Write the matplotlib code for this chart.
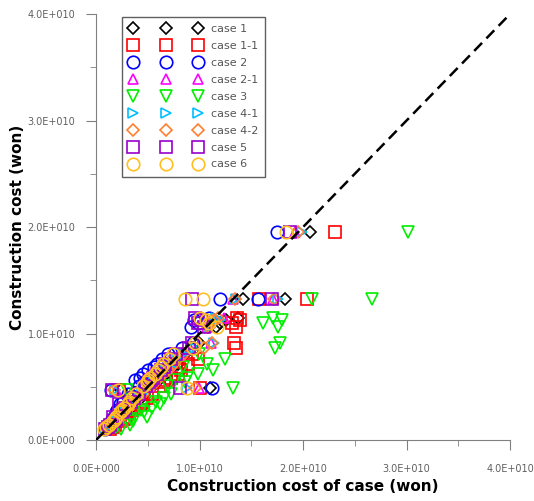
import matplotlib
matplotlib.use("Agg")
import matplotlib.pyplot as plt
from matplotlib.ticker import MultipleLocator, FuncFormatter

# actual construction cost of each project (billion won)
actual = [19.5, 13.2, 13.2, 11.5, 11.3, 11.0, 10.6, 9.1, 8.6, 7.6, 7.1, 6.6, 6.2,
          5.8, 5.4, 4.9, 4.7, 4.3, 3.9, 3.4, 3.0, 2.6, 2.2, 1.8, 1.4, 1.0,
          8.1, 6.9, 5.6, 5.1, 3.6, 2.8, 2.0, 1.2]

# estimated cost of each project for every case (billion won)
case1 = [20.7, 14.2, 18.3, 13.7, 12.6, 12.0, 11.6, 9.9, 9.3, 8.0, 7.9, 7.0, 6.8,
         6.2, 5.9, 11.0, 2.4, 4.6, 4.3, 3.6, 3.4, 2.8, 2.5, 2.0, 1.6, 1.1,
         8.6, 7.4, 6.0, 5.5, 3.9, 3.0, 2.2, 1.3]
case1_1 = [23.1, 15.7, 20.4, 13.6, 13.9, 13.1, 13.5, 13.3, 13.5, 9.8, 8.9, 8.2, 7.9,
           7.2, 6.6, 10.0, 2.2, 5.4, 4.9, 4.3, 3.7, 3.2, 2.9, 2.3, 1.8, 1.3,
           9.3, 8.0, 6.8, 6.1, 4.5, 3.4, 2.7, 1.6]
case2 = [17.5, 12.0, 15.6, 10.9, 9.5, 9.8, 9.2, 9.4, 8.3, 6.4, 5.9, 5.0, 4.5,
         4.2, 4.6, 11.2, 1.4, 3.1, 3.2, 2.3, 2.6, 1.9, 1.7, 1.6, 1.2, 0.9,
         6.9, 5.6, 3.8, 4.1, 2.6, 2.0, 1.5, 1.0]
case2_1 = [19.2, 13.2, 17.1, 12.4, 11.0, 11.0, 10.7, 11.1, 9.1, 7.6, 7.1, 6.5, 6.2,
           5.7, 5.4, 9.9, 1.9, 4.2, 3.8, 3.3, 3.0, 2.6, 2.2, 1.8, 1.4, 1.0,
           8.2, 7.0, 5.7, 5.2, 3.6, 2.8, 2.0, 1.2]
case3 = [30.1, 20.9, 26.7, 17.1, 18.0, 16.1, 17.6, 17.8, 17.3, 12.5, 10.7, 11.3, 9.8,
         8.8, 8.6, 13.2, 3.0, 7.2, 6.6, 6.2, 5.4, 4.6, 4.9, 3.6, 3.3, 2.4,
         9.9, 8.4, 7.6, 6.9, 5.8, 4.3, 3.4, 1.9]
case4_1 = [19.9, 13.5, 17.6, 11.6, 12.0, 11.3, 11.0, 11.4, 9.6, 7.8, 7.3, 6.8, 6.4,
           6.0, 5.6, 8.8, 1.8, 4.4, 4.0, 3.5, 3.1, 2.7, 2.3, 1.9, 1.4, 1.0,
           8.4, 7.1, 5.8, 5.3, 3.7, 2.9, 2.1, 1.2]
case4_2 = [19.5, 13.4, 17.2, 11.8, 11.4, 11.1, 10.8, 11.2, 10.4, 7.9, 7.5, 6.9, 6.5,
           6.1, 5.7, 9.6, 1.7, 4.5, 4.1, 3.6, 3.2, 2.8, 2.4, 2.0, 1.5, 1.1,
           8.5, 7.2, 5.9, 5.4, 3.8, 3.0, 2.2, 1.3]
case5 = [18.7, 9.3, 17.0, 9.6, 10.1, 9.8, 10.4, 9.3, 9.0, 7.2, 6.7, 6.3, 5.9,
         5.5, 5.1, 8.1, 1.5, 4.1, 3.7, 2.2, 2.8, 2.5, 1.6, 1.7, 1.3, 0.9,
         7.7, 6.6, 5.3, 4.8, 3.4, 2.6, 1.9, 1.1]
case6 = [18.4, 8.6, 10.3, 10.0, 10.6, 10.9, 11.7, 9.6, 9.4, 7.0, 6.5, 6.0, 5.7,
         5.2, 4.9, 8.8, 2.1, 3.9, 3.5, 3.1, 2.7, 2.3, 1.9, 1.6, 1.2, 0.8,
         7.4, 6.3, 5.0, 4.5, 3.2, 2.5, 1.8, 1.0]

names = ['case 1', 'case 1-1', 'case 2', 'case 2-1', 'case 3',
         'case 4-1', 'case 4-2', 'case 5', 'case 6']
series = [case1, case1_1, case2, case2_1, case3, case4_1, case4_2, case5, case6]
markers = ['D', 's', 'o', '^', 'v', '>', 'D', 's', 'o']
colors = ['black', '#ff0000', '#0000ff', '#ff00ff', '#00ee00',
          '#00bfff', '#ff8030', '#9900cc', '#ffc020']
sizes = [6.5, 8.5, 9, 7.5, 8, 7.5, 6.5, 8.5, 9]

fig = plt.figure(figsize=(5.34, 5.01), dpi=100)
ax = fig.add_axes([0.180, 0.1218, 0.775, 0.850])

for vals, name, m, c, s in zip(series, names, markers, colors, sizes):
    ax.plot([v * 1e9 for v in vals], [a * 1e9 for a in actual], linestyle='none',
            marker=m, markersize=s, markerfacecolor='none', markeredgecolor=c,
            markeredgewidth=1.2, label=name)

# 1:1 line
ax.plot([0, 4e10], [0, 4e10], 'k--', linewidth=1.8, dashes=(4.5, 2.5), zorder=5)

ax.set_xlim(0, 4e10)
ax.set_ylim(0, 4e10)

def sci_fmt(v, pos):
    if v == 0:
        return '0.0E+000'
    return f'{v / 1e10:.1f}E+010'

for axis in (ax.xaxis, ax.yaxis):
    axis.set_major_locator(MultipleLocator(1e10))
    axis.set_minor_locator(MultipleLocator(0.5e10))
    axis.set_major_formatter(FuncFormatter(sci_fmt))

ax.tick_params(which='both', direction='out', color='#808080', labelcolor='#606060',
               labelsize=7)
ax.tick_params(which='major', length=7, pad=10)
ax.tick_params(which='minor', length=4)
ax.tick_params(axis='y', which='major', pad=8)

for side in ('top', 'right'):
    ax.spines[side].set_visible(False)
for side in ('left', 'bottom'):
    ax.spines[side].set_color('#808080')

ax.set_xlabel('Construction cost of case (won)', fontsize=11, fontweight='bold',
              labelpad=4)
ax.set_ylabel('Construction cost (won)', fontsize=11, fontweight='bold', labelpad=2)

leg = ax.legend(loc='upper left', bbox_to_anchor=(0.063, 0.993), borderaxespad=0,
                numpoints=3, handlelength=6.5, handletextpad=0.8, labelspacing=0.62,
                fontsize=8, fancybox=False, framealpha=1, borderpad=0.65)
leg.get_frame().set_edgecolor('#606060')
for t in leg.get_texts():
    t.set_color('#555555')

fig.savefig('out.png', dpi=100)
